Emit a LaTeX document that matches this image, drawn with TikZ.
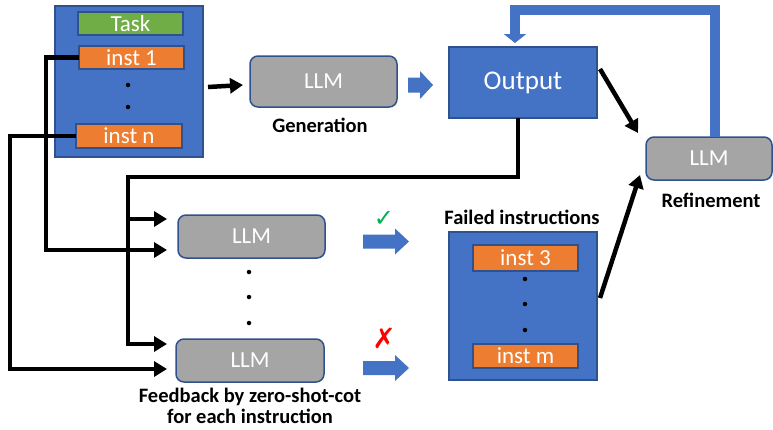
\documentclass[tikz,border=0pt]{standalone}
\usepackage{fontspec}
\setmainfont{Carlito}
\newfontfamily\symfont{DejaVu Sans}
\usetikzlibrary{arrows.meta}
\definecolor{ppblue}{HTML}{4472C4}
\definecolor{ppborder}{HTML}{2F528F}
\definecolor{pporange}{HTML}{ED7D31}
\definecolor{ppgreen}{HTML}{70AD47}
\definecolor{ppgray}{HTML}{A5A5A5}
\definecolor{ckgreen}{HTML}{00B050}
\newcommand\blockarrow[6]{%
  \fill[ppblue] (#1,#2-#5) -- (#3,#2-#5) -- (#3,#2-#6) -- (#4,#2) -- (#3,#2+#6) -- (#3,#2+#5) -- (#1,#2+#5) -- cycle;}
\begin{document}
\begin{tikzpicture}[x=1pt,y=-1pt,
  bluebox/.style={draw=ppborder, line width=1.2pt, fill=ppblue, inner sep=0pt, outer sep=0pt},
  instbox/.style={draw=ppborder, line width=1.5pt, fill=pporange, text=white, inner sep=0pt, outer sep=0pt,
    minimum width=105pt, font=\fontsize{23}{26}\selectfont},
  llmbox/.style={draw=ppborder, line width=1.5pt, fill=ppgray, rounded corners=8pt, text=white,
    font=\fontsize{23}{26}\selectfont, inner sep=0pt, outer sep=0pt},
  lbl/.style={font=\bfseries\fontsize{20.5}{21}\selectfont, text=black, inner sep=0pt, align=center},
  blk/.style={line width=4.5pt, draw=black, -{Triangle[length=13pt,width=15pt]}},
  bluefb/.style={line width=10pt, draw=ppblue, -{Triangle[length=9pt,width=22pt]}},
  dotc/.style={fill=black, circle, inner sep=0pt, minimum size=4.5pt}
]
\useasboundingbox (0,0) rectangle (773,429);

% left input box
\node[bluebox, minimum width=148pt, minimum height=151pt] (inbox) at (129,81.5) {};
\node[instbox, fill=ppgreen, minimum height=23pt] (task) at (130.5,23.5) {Task};
\node[instbox, minimum height=23pt] (inst1) at (131.5,57.5) {inst 1};
\node[instbox, minimum width=106pt, minimum height=24pt] (instn) at (129,136) {inst n};
\node[dotc] (d1) at (128,85) {};
\node[dotc] (d2) at (128,107) {};

% generation
\node[llmbox, minimum width=147pt, minimum height=51pt] (gen) at (323.5,81.5) {LLM};
\node[lbl] (genlbl) at (320,125) {Generation};

% output
\node[bluebox, minimum width=148pt, minimum height=71pt, text=white, font=\fontsize{27}{30}\selectfont] (output) at (523,82.5) {Output};

% refinement
\node[llmbox, minimum width=126pt, minimum height=43pt] (refine) at (709,158.5) {LLM};
\node[lbl] (reflbl) at (711,200) {Refinement};

% feedback LLMs
\node[llmbox, minimum width=147pt, minimum height=43pt] (fb1) at (251.5,236.5) {LLM};
\node[llmbox, minimum width=148pt, minimum height=43pt] (fb2) at (250,360.5) {LLM};
\node[dotc] (d3) at (249,272) {};
\node[dotc] (d4) at (249,297) {};
\node[dotc] (d5) at (249,323) {};
\node[lbl] (fblbl) at (250,406) {Feedback by zero-shot-cot\\for each instruction};

% check / cross
\node[text=ckgreen, inner sep=0pt, font=\symfont\fontsize{24}{24}\selectfont] (chk) at (384,219) {✓};
\node[text=red, inner sep=0pt, font=\symfont\fontsize{28}{28}\selectfont] (crs) at (384,338) {✗};

% failed instructions
\node[lbl] (faillbl) at (522,217) {Failed instructions};
\node[bluebox, minimum width=148pt, minimum height=148pt] (failed) at (523,306) {};
\node[instbox, minimum height=26pt] (inst3) at (525.5,258) {inst 3};
\node[instbox, minimum height=24pt] (instm) at (525.5,356) {inst m};
\node[dotc] (d6) at (525,279) {};
\node[dotc] (d7) at (525,304) {};
\node[dotc] (d8) at (525,330) {};

% blue block arrows
\blockarrow{408}{85}{420}{433}{7.5}{14}
\blockarrow{363}{241.5}{395}{409}{7}{13}
\blockarrow{363}{368}{395}{409}{7}{13}

% black connectors
\draw[blk] ([xshift=5pt,yshift=-5.5pt]inbox.east) -- ([xshift=-7pt,yshift=-3.5pt]gen.west);
\draw[blk] ([xshift=3pt,yshift=13.5pt]output.east) -- ([xshift=-8pt,yshift=4pt]refine.north west);
\draw[blk] ([xshift=3pt,yshift=8pt]failed.east) -- ([xshift=-6pt,yshift=5pt]refine.south west);

\coordinate (bus) at (128,177);
\coordinate (br) at (128,219);
\draw[blk] ([xshift=-5pt]output.south) |- (bus) |- ([xshift=-9pt,yshift=16.5pt]fb2.west);
\draw[blk] (br) -- ([xshift=-11pt,yshift=17.5pt]fb1.west);
\draw[blk] (inst1.west) -- ++(-33,0) |- ([xshift=-11pt,yshift=-13.5pt]fb1.west);
\draw[blk] (instn.west) -- ++(-66,0) |- ([xshift=-9pt,yshift=-8.5pt]fb2.west);

% refinement feedback
\coordinate (fbc) at (600,10);
\draw[bluefb] ([xshift=6pt]refine.north) |- (fbc) -| ([xshift=-8pt,yshift=4pt]output.north);
\end{tikzpicture}
\end{document}
